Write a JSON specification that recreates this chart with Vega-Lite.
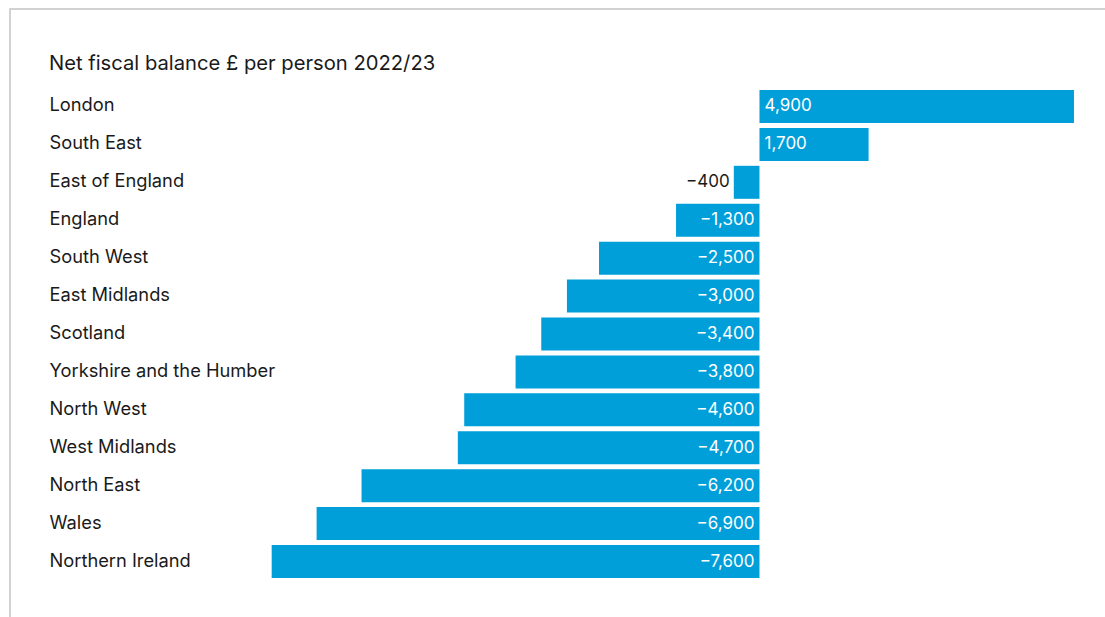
{
  "$schema": "https://vega.github.io/schema/vega-lite/v6.json",
  "width": 1115,
  "height": 628,
  "autosize": {"type": "none"},
  "padding": {"left": 10, "top": 9, "right": -20, "bottom": -20},
  "background": "white",
  "config": {
    "view": {"stroke": "#c4c4c4", "strokeWidth": 1.5},
    "font": "Inter"
  },
  "title": {
    "text": "Net fiscal balance £ per person 2022/23",
    "anchor": "start",
    "frame": "group",
    "orient": "top",
    "offset": -81,
    "dx": 39,
    "baseline": "alphabetic",
    "fontSize": 20.2,
    "fontWeight": "normal",
    "color": "#1a1a1a"
  },
  "data": {
    "values": [
      {"region": "London", "value": 4900},
      {"region": "South East", "value": 1700},
      {"region": "East of England", "value": -400},
      {"region": "England", "value": -1300},
      {"region": "South West", "value": -2500},
      {"region": "East Midlands", "value": -3000},
      {"region": "Scotland", "value": -3400},
      {"region": "Yorkshire and the Humber", "value": -3800},
      {"region": "North West", "value": -4600},
      {"region": "West Midlands", "value": -4700},
      {"region": "North East", "value": -6200},
      {"region": "Wales", "value": -6900},
      {"region": "Northern Ireland", "value": -7600}
    ]
  },
  "encoding": {
    "y": {
      "field": "region",
      "type": "nominal",
      "sort": null,
      "scale": {"paddingInner": 0, "paddingOuter": 0, "range": [78.5, 571.5]},
      "axis": {
        "title": null,
        "domain": false,
        "ticks": false,
        "grid": false,
        "labelAlign": "left",
        "labelPadding": -39,
        "labelFontSize": 18.3,
        "labelColor": "#1a1a1a",
        "labelLimit": 400
      }
    }
  },
  "layer": [
    {
      "mark": {"type": "bar", "color": "#009FDA", "height": {"band": 0.87}},
      "encoding": {
        "x": {
          "field": "value",
          "type": "quantitative",
          "scale": {"domain": [-11677, 5695], "nice": false, "zero": false},
          "axis": null
        }
      }
    },
    {
      "mark": {"type": "rule", "color": "#8c8c8c", "strokeWidth": 1},
      "encoding": {"x": {"datum": 0, "type": "quantitative"}}
    },
    {
      "transform": [{"filter": "datum.value > 0"}],
      "mark": {"type": "text", "align": "left", "dx": 5, "fontSize": 17, "color": "white", "baseline": "middle"},
      "encoding": {
        "x": {"datum": 0, "type": "quantitative"},
        "text": {"field": "value", "type": "quantitative", "format": ","}
      }
    },
    {
      "transform": [{"filter": "datum.value <= -1000"}],
      "mark": {"type": "text", "align": "right", "dx": -5, "fontSize": 17, "color": "white", "baseline": "middle"},
      "encoding": {
        "x": {"datum": 0, "type": "quantitative"},
        "text": {"field": "value", "type": "quantitative", "format": ","}
      }
    },
    {
      "transform": [{"filter": "datum.value < 0 && datum.value > -1000"}],
      "mark": {"type": "text", "align": "right", "dx": -4, "fontSize": 17, "color": "#1a1a1a", "baseline": "middle"},
      "encoding": {
        "x": {"field": "value", "type": "quantitative"},
        "text": {"field": "value", "type": "quantitative", "format": ","}
      }
    }
  ]
}
